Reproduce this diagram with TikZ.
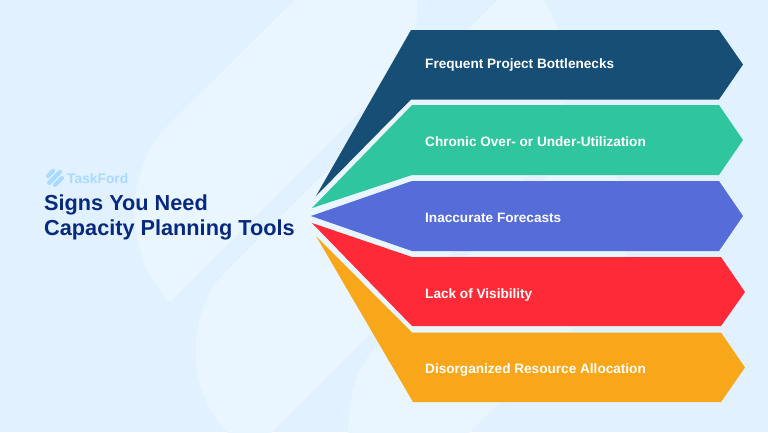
\documentclass[tikz,border=0pt]{standalone}
\usepackage{fontspec}
\setmainfont{Liberation Sans}
\definecolor{bgblue}{HTML}{E1F1FF}
\definecolor{bandblue}{HTML}{E9F5FF}
\definecolor{navyarrow}{HTML}{164E75}
\definecolor{greenarrow}{HTML}{2FC59F}
\definecolor{bluearrow}{HTML}{566CD8}
\definecolor{redarrow}{HTML}{FF2A38}
\definecolor{orangearrow}{HTML}{F9A71A}
\definecolor{titleblue}{HTML}{07297E}
\definecolor{logoblue}{HTML}{A9DAFF}
\tikzset{
  arrowlabel/.style={anchor=base west,inner sep=0pt,text=white,font=\fontsize{13.6}{15}\selectfont\bfseries},
  titlelabel/.style={anchor=base west,inner sep=0pt,text=titleblue,font=\fontsize{21.7}{25}\selectfont\bfseries},
  logostripe/.style={draw=logoblue,line width=4pt,line cap=round}
}
\begin{document}
\begin{tikzpicture}[x=1pt,y=-1pt]
\useasboundingbox (0,0) rectangle (768,432);
\clip (0,0) rectangle (768,432);
\fill [bgblue] (0,0) rectangle (768,432);
% background bands
\fill [bandblue] (305,-10) -- (170,123) .. controls (125,168) and (120,250) .. (170,302) -- (390,82) .. controls (410,62) and (420,30) .. (417,-10) -- cycle;
\fill [bandblue] (507,-10) -- (227,270) .. controls (185,312) and (185,390) .. (227,432) -- (237,442) -- (262,442) -- (530,174) .. controls (575,120) and (578,50) .. (538,-10) -- cycle;
\fill [bandblue] (377,346) -- (590,133) .. controls (620,160) and (632,220) .. (625,277) -- (460,442) -- (348,442) .. controls (347,400) and (355,368) .. (377,346) -- cycle;
% arrows
\fill [navyarrow] (316,196) -- (411,30) -- (719,30) -- (743,64.5) -- (719,99.5) -- (411,99.5) -- cycle;
\fill [greenarrow] (312,208) -- (412,105) -- (719,105) -- (743,140) -- (719,175) -- (412,175) -- cycle;
\fill [bluearrow] (311,216) -- (412,181) -- (719,181) -- (743,216) -- (719,251) -- (412,251) -- cycle;
\fill [redarrow] (312,223) -- (412,257) -- (721,257) -- (745,292) -- (721,326) -- (412,326) -- cycle;
\fill [orangearrow] (316,236) -- (412,332.5) -- (721,332.5) -- (745,367.5) -- (721,402) -- (413,402) -- cycle;
% arrow labels
\node (bottlenecks) [arrowlabel] at (425,68.4) {Frequent Project Bottlenecks};
\node (utilization) [arrowlabel] at (425,146.4) {Chronic Over- or Under-Utilization};
\node (forecasts) [arrowlabel] at (425,222.4) {Inaccurate Forecasts};
\node (visibility) [arrowlabel] at (425,298.4) {Lack of Visibility};
\node (allocation) [arrowlabel] at (425,373.4) {Disorganized Resource Allocation};
% title
\node (titleone) [titlelabel] at (44,210) {Signs You Need};
\node (titletwo) [titlelabel] at (44,235) {Capacity Planning Tools};
% logo
\draw [logostripe] (48,176) -- (53,171);
\draw [logostripe] (49,183) -- (60,172);
\draw [logostripe] (55,185) -- (62,178);
\node (logotext) [anchor=base west,inner sep=0pt,text=logoblue,font=\fontsize{13.8}{17}\selectfont\bfseries] at (67,183.5) {TaskFord};
\end{tikzpicture}
\end{document}
